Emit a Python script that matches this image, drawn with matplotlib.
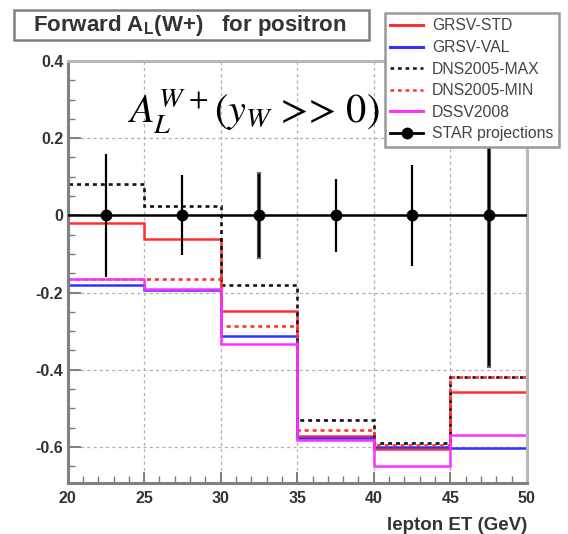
import numpy as np
import matplotlib.pyplot as plt
from matplotlib.ticker import MultipleLocator
from matplotlib.patches import Rectangle
from matplotlib.lines import Line2D

plt.rcParams['font.family'] = ['Liberation Sans', 'DejaVu Sans']
plt.rcParams['mathtext.fontset'] = 'stix'

# bin edges in lepton ET (GeV)
edges = [20, 25, 30, 35, 40, 45, 50]

# theory curves, one value per bin
grsv_std = [-0.019, -0.0625, -0.249, -0.573, -0.606, -0.458]
grsv_val = [-0.18, -0.193, -0.3125, -0.577, -0.60, -0.603]
dns_max = [0.082, 0.024, -0.18, -0.53, -0.59, -0.418]
dns_min = [-0.165, -0.164, -0.286, -0.557, -0.596, -0.418]
dssv = [-0.164, -0.19, -0.334, -0.581, -0.65, -0.569]

# STAR projections
star_x = [22.5, 27.5, 32.5, 37.5, 42.5, 47.5]
star_y = [0, 0, 0, 0, 0, 0]
star_err = [0.16, 0.104, 0.107, 0.095, 0.131, 0.39]

fig = plt.figure(figsize=(5.68, 5.34), dpi=100)
ax = fig.add_axes([0.119, 0.096, 0.8086, 0.7897])

# dashed grid like ROOT
ax.grid(True, which='major', color='#b0b0b0', linestyle=(0, (2.5, 2.5)), linewidth=0.9)
ax.set_axisbelow(True)

dot = (0, (1.5, 1.5))
ax.stairs(grsv_std, edges, color='#ff3030', linewidth=1.8)
ax.stairs(grsv_val, edges, color='#3030ff', linewidth=1.8)
ax.stairs(dssv, edges, color='#ff30ff', linewidth=1.8, zorder=1.9)
ax.stairs(dns_max, edges, color='#111111', linewidth=1.9, linestyle=dot)
ax.stairs(dns_min, edges, color='#ff3030', linewidth=1.9, linestyle=dot)

# line at zero from the projections
ax.axhline(0, color='black', linewidth=1.8, zorder=4)
ax.errorbar(star_x, star_y, yerr=star_err, fmt='o', color='black', markersize=7.5,
            elinewidth=1.6, capsize=0, zorder=5)
# wider, greyer bars on bins 3 and 6 as in the original
for i in (2, 5):
    ax.plot([star_x[i], star_x[i]], [star_y[i] - star_err[i], star_y[i] + star_err[i]],
            color='#666666', linewidth=3, zorder=4.5)

ax.set_xlim(20, 50)
ax.set_ylim(-0.693, 0.4)
ax.xaxis.set_major_locator(MultipleLocator(5))
ax.xaxis.set_minor_locator(MultipleLocator(1))
ax.yaxis.set_minor_locator(MultipleLocator(0.05))
ax.set_yticks([-0.6, -0.4, -0.2, 0, 0.2, 0.4])
ax.set_yticklabels(['-0.6', '-0.4', '-0.2', '0', '0.2', '0.4'])
ax.tick_params(which='both', direction='in', top=False, right=False, color='#777777')
ax.tick_params(axis='y', which='major', length=9, width=1.3, labelsize=11.5, pad=3)
ax.tick_params(axis='x', which='major', length=8, width=1.3, labelsize=11.5, pad=6)
ax.tick_params(which='minor', length=5, width=1)
for lab in ax.get_xticklabels() + ax.get_yticklabels():
    lab.set_fontweight('bold')
    lab.set_color('#333333')
for side, s in ax.spines.items():
    s.set_linewidth(2.2)
    s.set_color('#808080' if side in ('left', 'bottom') else '#b8b8b8')

fig.text(527 / 568, 1 - 530 / 534, 'lepton ET (GeV)', ha='right', va='baseline', fontsize=13.5,
         fontweight='bold', color='#333333')

# title box
fig.patches.append(Rectangle((14 / 568, 1 - 40 / 534), 355 / 568, 30 / 534, transform=fig.transFigure,
                             facecolor='white', edgecolor='#808080', linewidth=1.8))
fig.text(33 / 568, 1 - 26 / 534, r'Forward A$_{\mathregular{L}}$(W+)   for positron', fontsize=16,
         fontweight='bold', color='#333333', va='center', ha='left')

# big asymmetry label, upright parts in STIX serif
fig.text(127 / 568, 1 - 123 / 534, r'$A_L^{W\,+}$($y_W$ >> 0)', family='STIXGeneral',
         fontsize=29, ha='left', va='baseline', zorder=6)

handles = [Line2D([], [], color='#ff3030', linewidth=2.2),
           Line2D([], [], color='#3030ff', linewidth=2.2),
           Line2D([], [], color='#111111', linewidth=1.8, linestyle=dot),
           Line2D([], [], color='#ff3030', linewidth=1.8, linestyle=dot),
           Line2D([], [], color='#ff30ff', linewidth=2.2),
           Line2D([], [], color='black', linewidth=2, marker='o', markersize=7.5)]
labels = ['GRSV-STD', 'GRSV-VAL', 'DNS2005-MAX', 'DNS2005-MIN', 'DSSV2008', 'STAR projections']
leg = fig.legend(handles, labels, loc='upper left', bbox_to_anchor=(385 / 568, 1 - 13 / 534),
                 fontsize=11.3, frameon=True, fancybox=False, edgecolor='#999999', framealpha=1,
                 handlelength=2.1, labelspacing=0.42, borderpad=0.35, borderaxespad=0,
                 handletextpad=0.55)
leg.get_frame().set_linewidth(1.8)
for t in leg.get_texts():
    t.set_color('#444444')

fig.savefig('out.png', dpi=100)
